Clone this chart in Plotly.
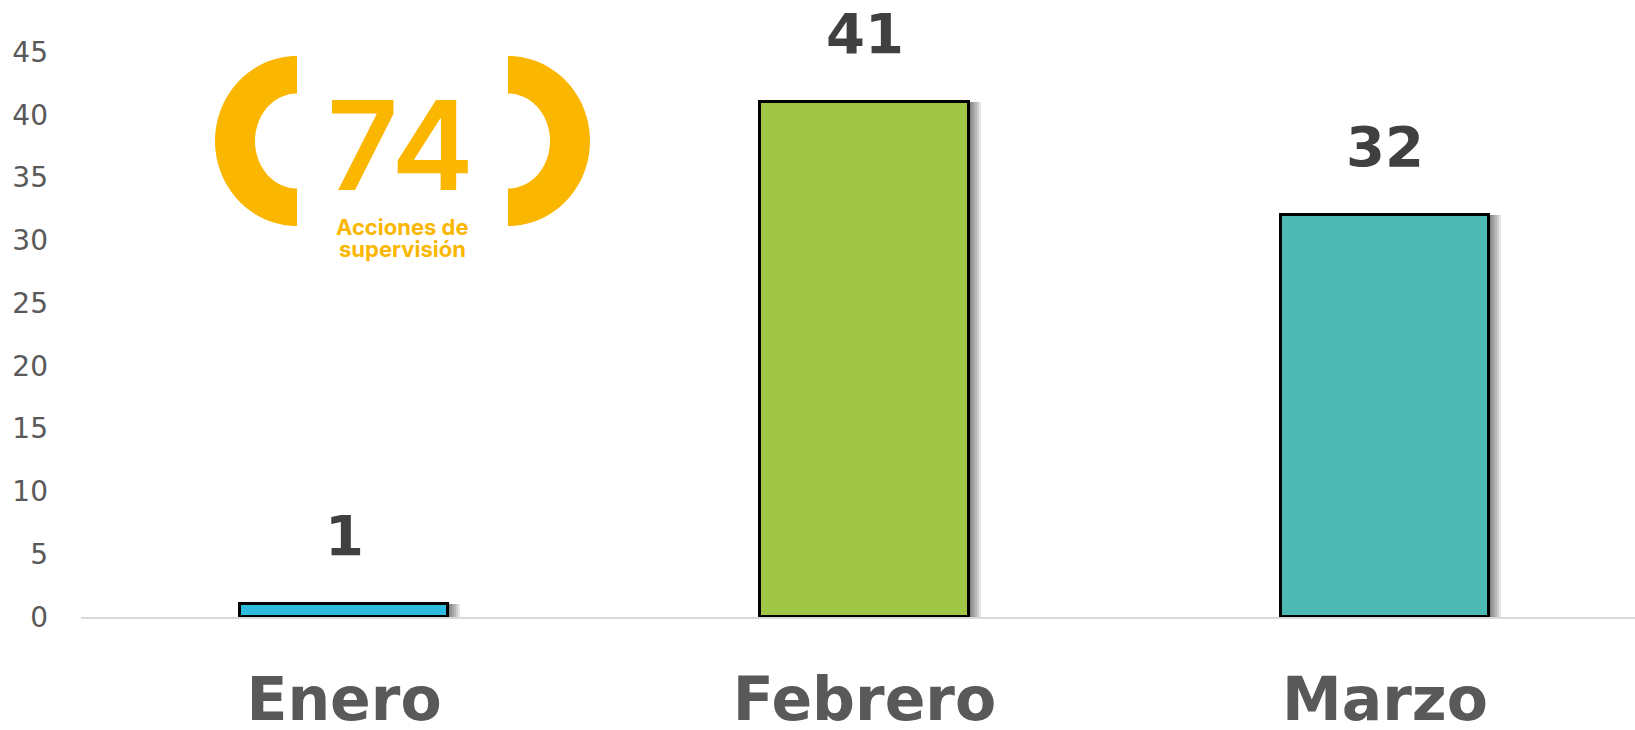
import numpy as np
import plotly.graph_objects as go

# ---- data ----
months = ["Enero", "Febrero", "Marzo"]
acciones = [1, 41, 32]
bar_colors = ["#2EBBE0", "#A0C544", "#4DB9B3"]
y_ticks = [0, 5, 10, 15, 20, 25, 30, 35, 40, 45]
total_label = "74"
total_caption = ["Acciones de", "supervisión"]

# ---- layout geometry (pixels) ----
W, H = 1635, 730
ML, MR, MT, MB = 81, 0, 0, 113
PW, PH = W - ML - MR, H - MT - MB
px_per_unit = (617 - 52) / 45.0
y_max = PH / px_per_unit
cat_px = 520.5
x_lo = -(344 - ML) / cat_px
x_hi = x_lo + PW / cat_px
bar_w = 0.4

def paper_x(px):
    return (px - ML) / PW

def paper_y(py):
    return (H - MB - py) / PH

fig = go.Figure()

# soft drop shadow to the right of each bar
for k, sh in enumerate([2, 4, 6, 8, 10, 12]):
    d = sh / cat_px
    fig.add_trace(go.Bar(
        x=list(range(len(months))), y=acciones,
        width=bar_w, offset=-bar_w / 2 + d,
        marker=dict(color="rgba(0,0,0,0.10)", line=dict(width=0)),
        hoverinfo="skip", showlegend=False,
    ))

# main bars
fig.add_trace(go.Bar(
    x=list(range(len(months))), y=acciones,
    width=bar_w, offset=-bar_w / 2,
    marker=dict(color=bar_colors, line=dict(color="#000000", width=3)),
    showlegend=False,
))

# value labels above bars
for i, v in enumerate(acciones):
    fig.add_annotation(
        x=i, y=v, xref="x", yref="y", text=f"<b>{v}</b>",
        showarrow=False, yanchor="bottom", yshift=34,
        font=dict(family="DejaVu Sans", size=56, color="#404040"),
    )

# ---- logo: bracketed total ----
orange = "#FBB600"

def half_ring(cx, cy, rxo, ryo, rxi, ryi, a0, a1):
    t = np.linspace(np.radians(a0), np.radians(a1), 60)
    outer = [(cx + rxo * np.cos(a), cy - ryo * np.sin(a)) for a in t]
    inner = [(cx + rxi * np.cos(a), cy - ryi * np.sin(a)) for a in t[::-1]]
    pts = outer + inner
    path = "M " + " L ".join(f"{paper_x(x):.5f},{paper_y(y):.5f}" for x, y in pts) + " Z"
    return path

for path in [half_ring(297, 141, 82, 85, 42, 47.5, 90, 270),
             half_ring(508, 141, 82, 85, 42, 47.5, -90, 90)]:
    fig.add_shape(type="path", path=path, xref="paper", yref="paper",
                  fillcolor=orange, line=dict(width=0), layer="above")

fig.add_annotation(
    x=paper_x(400), y=paper_y(145), xref="paper", yref="paper",
    text=total_label, showarrow=False, xanchor="center", yanchor="middle",
    font=dict(family="Inter", size=124, color=orange, weight=600),
)
for j, line in enumerate(total_caption):
    fig.add_annotation(
        x=paper_x(402), y=paper_y(227 + j * 22), xref="paper", yref="paper",
        text=line, showarrow=False, xanchor="center", yanchor="middle",
        font=dict(family="Inter", size=22, color=orange, weight=700),
    )

fig.update_layout(
    width=W, height=H,
    margin=dict(l=ML, r=MR, t=MT, b=MB, pad=0, autoexpand=False),
    paper_bgcolor="white", plot_bgcolor="white",
    barmode="overlay", bargap=0,
    xaxis=dict(
        range=[x_lo, x_hi], tickmode="array",
        tickvals=list(range(len(months))), ticktext=[f"<b>{m}</b>" for m in months],
        tickfont=dict(family="DejaVu Sans", size=60, color="#595959"),
        showgrid=False, zeroline=False, showline=True, automargin=False,
        linecolor="#D9D9D9", linewidth=2, ticks="", ticklabelstandoff=29,
    ),
    yaxis=dict(
        range=[0, y_max], tickmode="array", tickvals=y_ticks,
        tickfont=dict(family="DejaVu Sans", size=28, color="#595959"),
        showgrid=False, zeroline=False, showline=False, ticks="",
        automargin=False, ticklabelstandoff=32,
    ),
)

fig.write_html("out.html")
